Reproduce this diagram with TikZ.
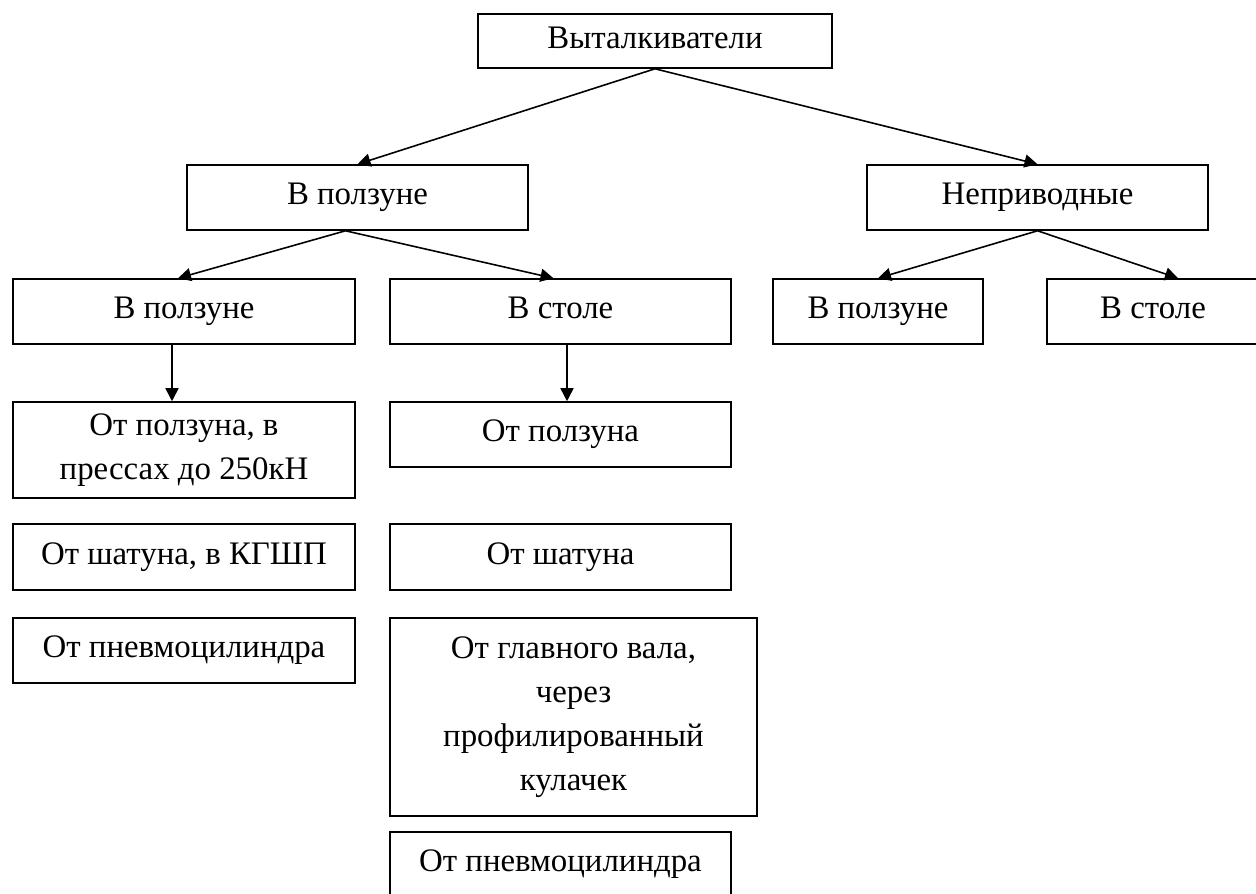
\documentclass[tikz,border=0pt]{standalone}
\usepackage{fontspec}
\setmainfont{Liberation Serif}
\usetikzlibrary{arrows.meta}
\begin{document}
\begin{tikzpicture}[x=0.02cm,y=-0.02cm,font=\fontsize{18.7}{25}\selectfont,
	b/.style 2 args={draw,line width=0.9pt,inner sep=0pt,align=center,minimum width=#1cm,minimum height=#2cm},
	one/.style={text height=12.4pt,text depth=4.1pt},
	a/.style={line width=0.9pt,-{Triangle[length=2.6mm,width=2.6mm]}}]
	\useasboundingbox (0,0) rectangle (1256,893);
	\clip (0,0) rectangle (1256,893);
	\node[b={7.08}{1.08},one] (top) at (655,41) {Выталкиватели};
	\node[b={6.82}{1.3},one] (pr) at (357.5,197.5) {В ползуне};
	\node[b={6.82}{1.3},one] (np) at (1037.5,197.5) {Неприводные};
	\node[b={6.84}{1.3},one] (prp) at (184,311.5) {В ползуне};
	\node[b={6.82}{1.3},one] (prs) at (560.5,311.5) {В столе};
	\node[b={4.2}{1.3},one] (npp) at (878,311.5) {В ползуне};
	\node[b={4.24}{1.3},one] (nps) at (1153,311.5) {В столе};
	\node[b={6.84}{1.92}] (p1) at (184,450) {От ползуна, в\\прессах до 250кН};
	\node[b={6.84}{1.32},one] (p2) at (184,557) {От шатуна, в КГШП};
	\node[b={6.84}{1.3},one] (p3) at (184,650.5) {От пневмоцилиндра};
	\node[b={6.82}{1.3},one] (s1) at (560.5,434.5) {От ползуна};
	\node[b={6.82}{1.32},one] (s2) at (560.5,557) {От шатуна};
	\node[b={7.34}{3.96}] (s3) at (573.5,717) {От главного вала,\\через\\профилированный\\кулачек};
	\node[b={6.82}{1.28},one] (s4) at (560.5,864) {От пневмоцилиндра};
	\draw[a] (top.south) -- (pr.north);
	\draw[a] (top.south) -- (np.north);
	\draw[a] ([xshift=-0.24cm]pr.south) -- ([xshift=-0.12cm]prp.north);
	\draw[a] ([xshift=-0.24cm]pr.south) -- ([xshift=-0.14cm]prs.north);
	\draw[a] (np.south) -- (npp.north);
	\draw[a] (np.south) -- ([xshift=0.5cm]nps.north);
	\draw[a] ([xshift=-0.24cm]prp.south) -- ([xshift=-0.24cm]p1.north);
	\draw[a] ([xshift=0.13cm]prs.south) -- ([xshift=0.13cm]s1.north);
\end{tikzpicture}
\end{document}
